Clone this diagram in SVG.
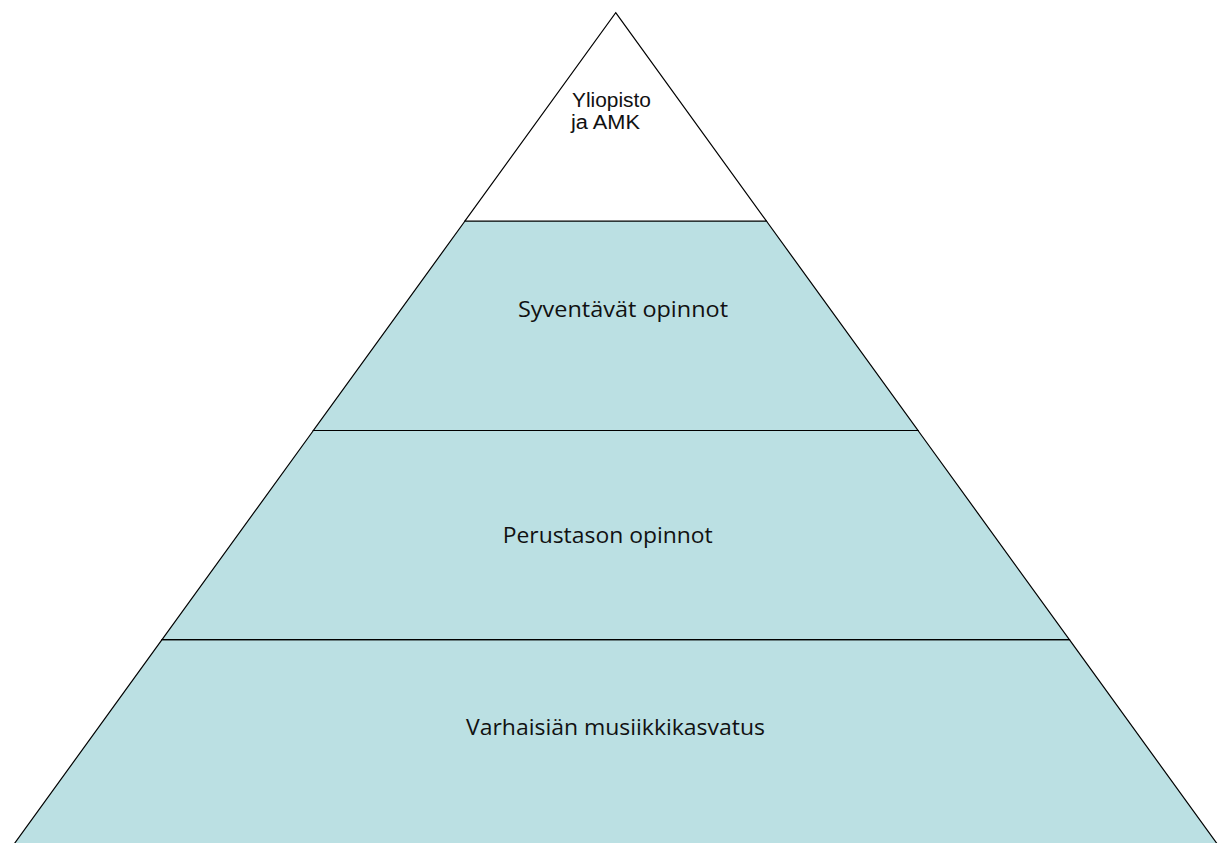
<svg xmlns="http://www.w3.org/2000/svg" width="1224" height="843" viewBox="0 0 1224 843">
<style>
.bg{fill:#ffffff}
.layer{fill:#bbe0e3;stroke:#000000;stroke-width:1.2;stroke-linejoin:miter}
.top{fill:#ffffff;stroke:#000000;stroke-width:1.2}
.lbl{font-family:"Open Sans","Noto Sans","DejaVu Sans",sans-serif;font-size:21px;fill:#111111;text-anchor:middle}
.lbl2{font-family:"Liberation Sans",Arial,sans-serif;font-size:20px;fill:#111111}
</style>
<rect class="bg" x="0" y="0" width="1224" height="843"/>
<g id="layer-base">
<polygon class="layer" points="162,639.7 1069.4,639.7 1218,845 13.4,845"/>
<text class="lbl" x="615.5" y="735" textLength="299" lengthAdjust="spacingAndGlyphs">Varhaisiän musiikkikasvatus</text>
</g>
<g id="layer-perus">
<polygon class="layer" points="313.4,430.5 918,430.5 1069.4,639.7 162,639.7"/>
<text class="lbl" x="607.7" y="543.3" textLength="210" lengthAdjust="spacingAndGlyphs">Perustason opinnot</text>
</g>
<g id="layer-syventavat">
<polygon class="layer" points="465,221 766.4,221 918,430.5 313.4,430.5"/>
<text class="lbl" x="623" y="317" textLength="210" lengthAdjust="spacingAndGlyphs">Syventävät opinnot</text>
</g>
<g id="layer-top">
<polygon class="top" points="615.7,12.7 766.4,221 465,221"/>
<text class="lbl2" x="572" y="106.5" textLength="79" lengthAdjust="spacingAndGlyphs">Yliopisto</text>
<text class="lbl2" x="571" y="128.5" textLength="69" lengthAdjust="spacingAndGlyphs">ja AMK</text>
</g>
<g id="connectors"></g>
</svg>
